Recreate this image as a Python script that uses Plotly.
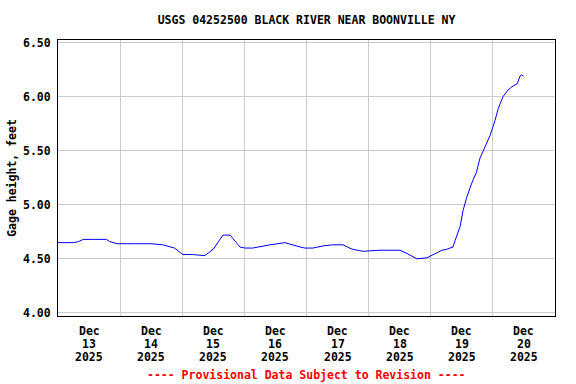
import plotly.graph_objects as go

times = [
    "2025-12-13 00:00", "2025-12-13 03:00", "2025-12-13 06:00", "2025-12-13 08:00",
    "2025-12-13 09:45", "2025-12-13 14:00", "2025-12-13 18:45", "2025-12-13 20:00",
    "2025-12-13 22:45", "2025-12-14 06:00", "2025-12-14 12:00", "2025-12-14 16:30",
    "2025-12-14 21:00", "2025-12-15 00:15", "2025-12-15 04:00", "2025-12-15 08:45",
    "2025-12-15 10:45", "2025-12-15 12:00", "2025-12-15 14:00", "2025-12-15 15:45",
    "2025-12-15 18:30", "2025-12-15 22:15", "2025-12-16 00:15", "2025-12-16 03:15",
    "2025-12-16 09:55", "2025-12-16 15:40", "2025-12-16 21:30", "2025-12-16 23:25",
    "2025-12-17 02:30", "2025-12-17 06:25", "2025-12-17 10:10", "2025-12-17 14:05",
    "2025-12-17 17:35", "2025-12-17 21:50", "2025-12-18 04:25", "2025-12-18 11:20",
    "2025-12-18 12:05", "2025-12-18 14:50", "2025-12-18 18:40", "2025-12-18 22:30",
    "2025-12-19 00:55", "2025-12-19 04:20", "2025-12-19 06:20", "2025-12-19 08:35",
    "2025-12-19 09:25", "2025-12-19 11:20", "2025-12-19 12:30", "2025-12-19 13:55",
    "2025-12-19 15:50", "2025-12-19 17:40", "2025-12-19 19:00", "2025-12-19 20:55",
    "2025-12-19 22:55", "2025-12-20 00:50", "2025-12-20 02:05", "2025-12-20 03:55",
    "2025-12-20 05:50", "2025-12-20 07:20", "2025-12-20 09:25", "2025-12-20 10:30",
    "2025-12-20 11:05", "2025-12-20 11:50",
]
gage_height = [
    4.65, 4.65, 4.65, 4.66,
    4.68, 4.68, 4.68, 4.66,
    4.64, 4.64, 4.64, 4.63,
    4.60, 4.54, 4.54, 4.53,
    4.57, 4.59, 4.66, 4.72,
    4.72, 4.61, 4.60, 4.60,
    4.63, 4.65, 4.61, 4.60,
    4.60, 4.62, 4.63, 4.63,
    4.59, 4.57, 4.58, 4.58,
    4.58, 4.55, 4.50, 4.51,
    4.54, 4.58, 4.59, 4.61,
    4.67, 4.80, 4.95, 5.07,
    5.20, 5.30, 5.43, 5.53,
    5.64, 5.78, 5.89, 6.00,
    6.06, 6.09, 6.12, 6.19,
    6.20, 6.19,
]

label_dates = ["2025-12-%02d 12:00" % d for d in range(13, 21)]
label_month = ["Dec"] * 8
label_day = [str(d) for d in range(13, 21)]
label_year = ["2025"] * 8
y_ticks = [4.0, 4.5, 5.0, 5.5, 6.0, 6.5]
y_text = ["4.00", "4.50", "5.00", "5.50", "6.00", "6.50"]

FONT = "DejaVu Sans Mono"

fig = go.Figure()
fig.add_trace(go.Scatter(
    x=times, y=gage_height, mode="lines",
    line=dict(color="#0000ff", width=1),
    showlegend=False, hoverinfo="skip",
))

fig.update_layout(
    width=576, height=384,
    margin=dict(l=58, r=21, t=40, b=68, autoexpand=False),
    paper_bgcolor="white", plot_bgcolor="white",
    title=dict(
        text="<b>USGS 04252500 BLACK RIVER NEAR BOONVILLE NY</b>",
        x=306.5 / 576, xanchor="center",
        y=1 - 19.5 / 384, yanchor="middle",
        font=dict(family=FONT, size=11.5, color="black"),
    ),
    font=dict(family=FONT, size=11.5, color="black"),
)

fig.update_xaxes(
    type="date", automargin=False,
    range=["2025-12-13 00:00", "2025-12-21 00:00"],
    tickmode="array", tickvals=label_dates, showticklabels=False,
    showgrid=False, ticks="",
    minor=dict(tickmode="array",
               tickvals=["2025-12-%02d 00:00" % d for d in range(14, 21)],
               showgrid=True, gridcolor="#cccccc", gridwidth=1, ticks=""),
    showline=True, linecolor="black", linewidth=1, mirror=True,
    zeroline=False,
)

fig.update_yaxes(
    automargin=False,
    range=[3.972, 6.523],
    tickmode="array", tickvals=y_ticks, ticktext=["<b>%s</b>" % t for t in y_text],
    showgrid=True, gridcolor="#cccccc", gridwidth=1,
    ticks="outside", ticklen=4, tickcolor="white",
    showline=True, linecolor="black", linewidth=1, mirror=True,
    zeroline=False,
    title=dict(text="<b>Gage height, feet</b>", standoff=3,
               font=dict(family=FONT, size=11.5, color="black")),
    tickfont=dict(family=FONT, size=11.5, color="black"),
)

for rows in zip(label_dates, label_month, label_day, label_year):
    d = rows[0]
    for txt, shift in zip(rows[1:], (-15, -28, -41)):
        fig.add_annotation(
            text="<b>%s</b>" % txt, x=d, xref="x", y=0, yref="paper",
            yshift=shift, xanchor="center", yanchor="middle", showarrow=False,
            font=dict(family=FONT, size=11.5, color="black"),
        )

fig.add_annotation(
    text="<b>---- Provisional Data Subject to Revision ----</b>",
    xref="paper", yref="paper",
    x=0.5, y=-(375 - 316) / 276, xanchor="center", yanchor="middle",
    showarrow=False,
    font=dict(family=FONT, size=11.5, color="#ff0000"),
)

fig.write_html("out.html", config={"displayModeBar": False},
               post_script="document.body.style.margin='0';")
